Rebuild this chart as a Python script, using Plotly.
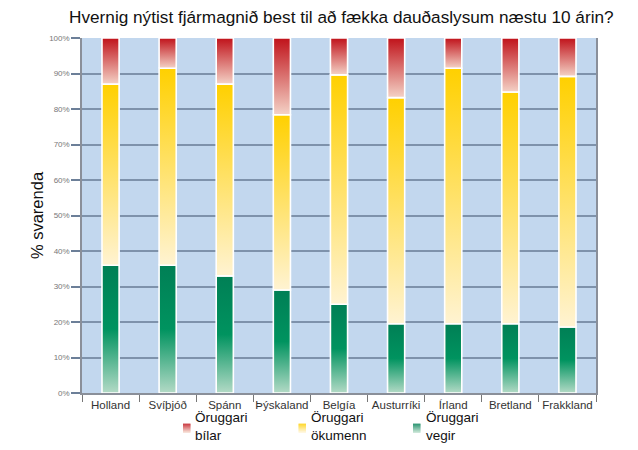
import plotly.graph_objects as go

categories = ["Holland", "Svíþjóð", "Spánn", "Þýskaland", "Belgía",
              "Austurríki", "Írland", "Bretland", "Frakkland"]
vegir = [36, 36, 33, 29, 25, 19.5, 19.5, 19.5, 18.6]          # green
okumenn_top = [87, 91.5, 87, 78.4, 89.6, 83.2, 91.5, 84.8, 89.2]  # cumulative top of yellow
okumenn = [t - g for t, g in zip(okumenn_top, vegir)]
bilar = [100 - t for t in okumenn_top]                         # red

series = [
    ("Öruggari<br>vegir", vegir, ["#b3dac6", "#00935f", "#007f55"]),
    ("Öruggari<br>ökumenn", okumenn, ["#fff3d2", "#ffd000"]),
    ("Öruggari<br>bílar", bilar, ["#f4d2c6", "#c0121a"]),
]
legend_order = ["Öruggari<br>bílar", "Öruggari<br>ökumenn", "Öruggari<br>vegir"]

W = 0.30
fig = go.Figure()
base = [0.0] * len(categories)
for name, vals, cols in series:
    n = len(cols)
    cs = [[k / (n - 1), c] for k, c in enumerate(cols)]
    for i, v in enumerate(vals):
        b = base[i]
        t = b + v
        fig.add_trace(go.Scatter(
            x=[i - W / 2, i + W / 2, i + W / 2, i - W / 2, i - W / 2],
            y=[b, b, t, t, b],
            mode="lines", fill="toself",
            line=dict(color="white", width=1.6),
            fillgradient=dict(type="vertical", colorscale=cs, start=b, stop=t),
            showlegend=False, hoverinfo="skip", name=name,
        ))
        base[i] = t


def mix(c1, c2, f):
    a = [int(c1[j:j + 2], 16) for j in (1, 3, 5)]
    b = [int(c2[j:j + 2], 16) for j in (1, 3, 5)]
    return "rgb({},{},{})".format(*[round(a[k] + (b[k] - a[k]) * f) for k in range(3)])


# manual legend: gradient keys built from thin strips + text annotations (paper units)
PL, PW, PB, PH = 82, 514, 393.3, 355.6  # plot area in pixels
def px(x):
    return (x - PL) / PW
def py(y):
    return (PB - y) / PH

sdict = {s[0]: s[2] for s in series}
key_left = [183, 298.5, 413]
txt_left = [193, 309, 424]
key_top, key_h, key_w = 424, 9, 7.5
for k, name in enumerate(legend_order):
    cols = sdict[name]
    dark, light = cols[-1], cols[0]
    for r in range(key_h):
        f = r / (key_h - 1)
        fig.add_shape(type="rect", xref="paper", yref="paper",
                      x0=px(key_left[k]), x1=px(key_left[k] + key_w),
                      y0=py(key_top + r), y1=py(key_top + r + 1.05),
                      fillcolor=mix(dark, light, f), line=dict(width=0), layer="above")
    fig.add_annotation(
        x=px(txt_left[k]), y=py(426.5), xref="paper", yref="paper",
        xanchor="left", yanchor="middle", align="left", showarrow=False,
        text=name, font=dict(size=13.5, color="#111"),
    )

fig.update_layout(
    width=638, height=450,
    margin=dict(l=82, r=42, t=38, b=57, autoexpand=False),
    paper_bgcolor="white", plot_bgcolor="#c2d7ee",
    font=dict(family="Liberation Sans, Arial, sans-serif", color="#222"),
    title=dict(text="Hvernig nýtist fjármagnið best til að fækka dauðaslysum næstu 10 árin?",
               x=0.535, xanchor="center", y=0.963, yanchor="middle",
               font=dict(size=17.2, color="#111")),
    showlegend=False,
)
fig.update_xaxes(
    range=[-0.5, len(categories) - 0.5],
    tickvals=list(range(len(categories))), ticktext=categories,
    ticks="", showgrid=False, zeroline=False,
    showline=True, linecolor="#8a8f99", linewidth=1.5,
    tickfont=dict(size=11.5, color="#333"),
    minor=dict(tickvals=[k + 0.5 for k in range(-1, len(categories))],
               ticks="outside", ticklen=7, tickcolor="#777", tickwidth=1),
)
fig.update_yaxes(
    range=[0, 100],
    tickvals=list(range(0, 101, 10)), ticktext=[f"{v}%" for v in range(0, 101, 10)],
    ticks="outside", ticklen=9, tickcolor="#6c7f98", tickwidth=2,
    showgrid=True, gridcolor="#7e92ab", gridwidth=2,
    zeroline=False, showline=True, mirror=True, linecolor="#8a8f99", linewidth=1.5,
    tickfont=dict(size=8, color="#777"),
    title=dict(text="% svarenda", font=dict(size=16.5, color="#111"), standoff=1),
)

fig.write_html("out.html")
